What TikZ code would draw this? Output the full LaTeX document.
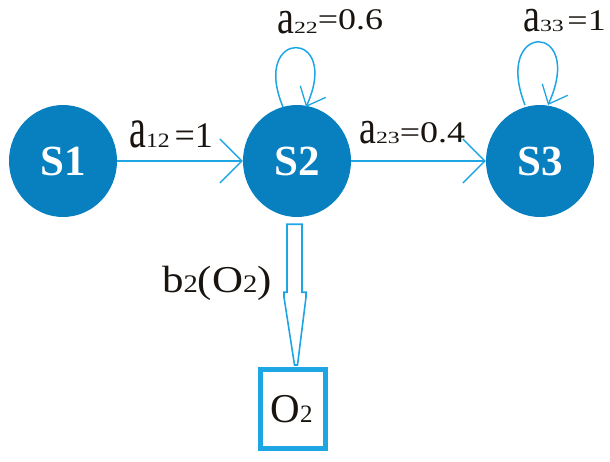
\documentclass[tikz,border=0pt]{standalone}
\usepackage{fontspec}
\setmainfont{Liberation Serif}
\usepackage{graphicx}
\usetikzlibrary{shapes.geometric,arrows.meta,calc}
\definecolor{nodefill}{RGB}{8,128,192}
\definecolor{linecol}{RGB}{30,166,228}
\definecolor{txt}{RGB}{25,20,15}
\newcommand{\alab}[3]{%
{\fontsize{38}{38}\selectfont\scalebox{1}[1.25]{a}}%
{\fontsize{17}{17}\selectfont\scalebox{1.4}[1]{#1}}%
{\fontsize{30}{30}\selectfont\raisebox{#3}{\scalebox{1.2}[1]{#2}}}}
\begin{document}
\begin{tikzpicture}[x=1pt,y=-1pt,
  state/.style={ellipse, fill=nodefill, draw=none, minimum width=108pt, minimum height=112pt,
    inner sep=0pt, text=white, font=\fontsize{43}{43}\selectfont\bfseries},
  lab/.style={anchor=base west, inner sep=0pt, text=txt},
  tr/.style={draw=linecol, line width=2pt, -{Straight Barb[length=22pt,width=44pt,line width=1.3pt 0]}},
  selfloop/.style={draw=linecol, line width=1.5pt, -{Straight Barb[length=16pt,width=28pt,line width=1.3pt 0]}},
  hollow/.style={draw=linecol, line width=1.6pt, fill=white, line join=miter},
  obox/.style={draw=linecol, line width=5pt, minimum width=65pt, minimum height=79pt, inner sep=0pt, text=txt}]
\useasboundingbox (0,0) rectangle (610,461);
\node[state] (S1) at (63,161) {S1};
\node[state] (S2) at (297,161) {S2};
\node[state] (S3) at (540,161) {S3};
\node[obox] (O2) at (293,409) {\hspace*{-3pt}\raisebox{-5pt}{\fontsize{41}{41}\selectfont O{\fontsize{25}{25}\selectfont 2}}};
% transitions
\draw[tr] (S1.east) -- (S2.west);
\draw[tr] (S2.east) -- (S3.west);
% self loops
\draw[selfloop] ([shift={(-14,-54)}]S2.center) .. controls ([shift={(-47,-133)}]S2.center) and ([shift={(45,-133)}]S2.center) .. ([shift={(9,-54)}]S2.center);
\draw[selfloop] ([shift={(-15,-56)}]S3.center) .. controls ([shift={(-48,-140)}]S3.center) and ([shift={(46,-140)}]S3.center) .. ([shift={(8,-56)}]S3.center);
% emission arrow
\coordinate (at) at ($(S2.south)+(-2.5,7)$);
\coordinate (tip) at ($(at |- O2.north)+(1.5,-2)$);
\draw[hollow] ($(at)+(-7.5,0)$) -- ($(at)+(7.5,0)$) -- ($(at)+(7.5,68)$) -- ($(at)+(11.5,68)$)
  -- ($(at)+(11.5,73)$) -- ($(tip)+(1.5,0)$) -- ($(tip)+(-1.5,0)$) -- ($(at)+(-10.5,73)$)
  -- ($(at)+(-10.5,68)$) -- ($(at)+(-7.5,68)$) -- cycle;
% labels
\node[lab] (l12) at (129,147) {\scalebox{1}[1.2]{\alab{12}{\hspace*{4pt}=1}{0pt}}};
\node[lab] (l23) at (359,143) {\alab{23}{=0.4}{1pt}};
\node[lab] (l22) at (277,33) {\alab{22}{=0.6}{4pt}};
\node[lab] (l33) at (523,31) {\alab{33}{\hspace*{3pt}=1}{1pt}};
\node[lab] (lb2) at (162,292) {\scalebox{1.3}[1.15]{\fontsize{33}{33}\selectfont b{\fontsize{22}{22}\selectfont 2}(O{\fontsize{22}{22}\selectfont 2})}};
\end{tikzpicture}
\end{document}
